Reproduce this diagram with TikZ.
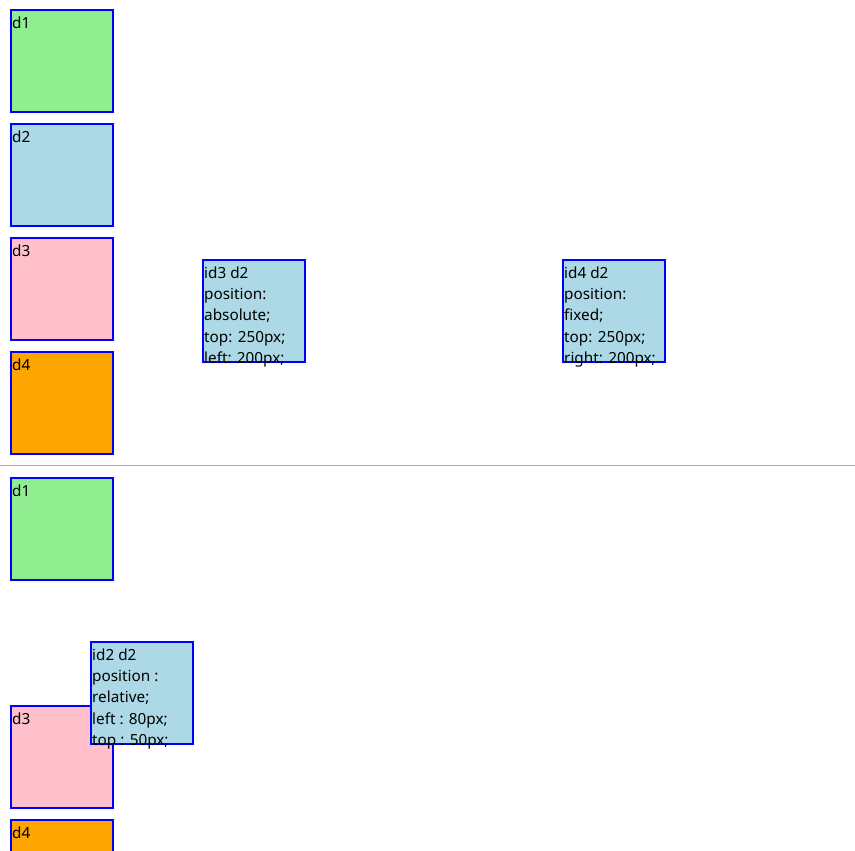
\documentclass[tikz,border=0pt]{standalone}
\usepackage{fontspec}
\setmainfont{Noto Sans}
\begin{document}
\begin{tikzpicture}[x=1pt,y=-1pt,
  boxstyle/.style={draw={rgb,255:red,0;green,0;blue,255},line width=2pt},
  txt/.style={anchor=base west,inner sep=0pt,align=left,text=black,
    font=\fontsize{15.3pt}{21.3pt}\selectfont}]
\definecolor{lgreen}{HTML}{90EE90}
\definecolor{lblue}{HTML}{ADD8E6}
\definecolor{lpink}{HTML}{FFC0CB}
\definecolor{lorange}{HTML}{FFA500}
\definecolor{sepgray}{HTML}{AAAAAA}
\useasboundingbox (0,0) rectangle (855,851);
\clip (0,0) rectangle (855,851);
% top section
\path[boxstyle,fill=lgreen] (11,10.3) rectangle (113,111.7);
\node[txt] (t1) at (12,28.3) {d1};
\path[boxstyle,fill=lblue] (11,124.3) rectangle (113,225.7);
\node[txt] (t2) at (12,142.3) {d2};
\path[boxstyle,fill=lpink] (11,238.3) rectangle (113,339.7);
\node[txt] (t3) at (12,256.3) {d3};
\path[boxstyle,fill=lorange] (11,352.3) rectangle (113,453.7);
\node[txt] (t4) at (12,370.3) {d4};
\path[boxstyle,fill=lblue] (203,260.3) rectangle (305,361.7);
\node[txt] (ta) at (204,363.5) {id3 d2\\position:\\absolute;\\top: 250px;\\left: 200px;};
\path[boxstyle,fill=lblue] (563,260.3) rectangle (665,361.7);
\node[txt] (tf) at (564,363.5) {id4 d2\\position:\\fixed;\\top: 250px;\\right: 200px;};
% separator
\draw[sepgray,line width=1.3pt] (0,465.3) -- (855,465.3);
% bottom section
\path[boxstyle,fill=lgreen] (11,478.3) rectangle (113,579.7);
\node[txt] (b1) at (12,496.3) {d1};
\path[boxstyle,fill=lpink] (11,706.3) rectangle (113,807.7);
\node[txt] (b3) at (12,724.3) {d3};
\path[boxstyle,fill=lorange] (11,820.3) rectangle (113,921.7);
\node[txt] (b4) at (12,838.3) {d4};
\path[boxstyle,fill=lblue] (91,642.3) rectangle (193,743.7);
\node[txt] (br) at (92,745.5) {id2 d2\\position :\\relative;\\left : 80px;\\top : 50px;};
\end{tikzpicture}
\end{document}
